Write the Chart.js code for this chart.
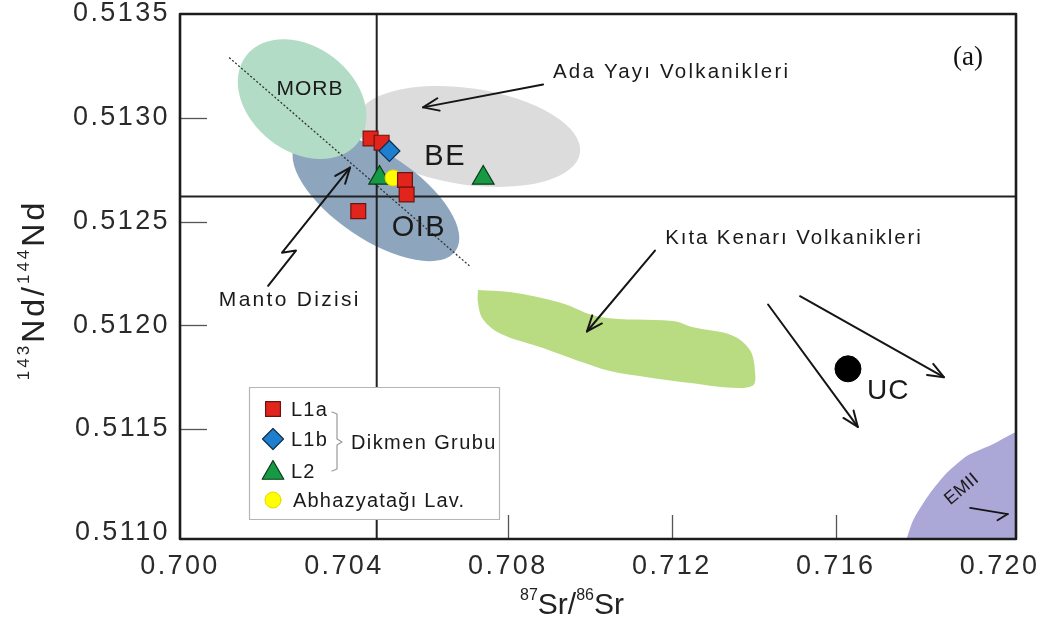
<!DOCTYPE html>
<html>
<head>
<meta charset="utf-8">
<script src="https://cdn.jsdelivr.net/npm/chart.js@4.4.1/dist/chart.umd.min.js"></script>
<style>
  html, body { margin: 0; padding: 0; background: #fff; }
  #wrap { width: 1040px; height: 625px; }
</style>
</head>
<body>
<div id="wrap"><canvas id="c" width="1040" height="625"></canvas></div>
<script>
// 87Sr/86Sr vs 143Nd/144Nd – Dikmen Grubu and Abhazyatağı lavas

const xTicks = [0.700, 0.704, 0.708, 0.712, 0.716, 0.720];
const yTicks = [0.5110, 0.5115, 0.5120, 0.5125, 0.5130, 0.5135];

// samples
const srL1a = [0.70465, 0.70492, 0.70549, 0.70553, 0.70435];
const ndL1a = [0.51290, 0.51288, 0.51270, 0.51263, 0.51255];
const srL1b = [0.70511];
const ndL1b = [0.51284];
const srL2  = [0.70487, 0.70740];
const ndL2  = [0.51271, 0.51271];
const srAbh = [0.70520];
const ndAbh = [0.51271];

// upper crust
const srUC = [0.71630];
const ndUC = [0.51179];

// bulk earth reference lines
const bulkEarthSr = 0.7048;
const churNd = 0.51262;

// mantle array
const mantleSr = [0.70120, 0.70710];
const mantleNd = [0.51329, 0.51228];

// continental margin volcanics field (outline)
const kitaSr = [0.70727, 0.70805, 0.70927, 0.71025, 0.71203, 0.71252, 0.71349, 0.71391, 0.71403, 0.71398,
                0.71335, 0.71252, 0.71140, 0.71049, 0.70969, 0.70886, 0.70781, 0.70739, 0.70727, 0.70727];
const kitaNd = [0.51217, 0.51216, 0.51211, 0.51204, 0.51202, 0.51199, 0.51195, 0.51188, 0.51178, 0.51171,
                0.51170, 0.51172, 0.51175, 0.51178, 0.51183, 0.51189, 0.51196, 0.51203, 0.51211, 0.51217];

// EMII field (outline)
const emiiSr = [0.71762, 0.71789, 0.71830, 0.71872, 0.71920, 0.71977, 0.72060, 0.72060, 0.71762];
const emiiNd = [0.51090, 0.51106, 0.51119, 0.51129, 0.51137, 0.51142, 0.51149, 0.51090, 0.51090];

// elliptical fields: centre, end of long semi-axis, end of short semi-axis (Sr, Nd pairs)
const fieldBE   = [0.70703, 0.51291, 0.70976, 0.51283, 0.70686, 0.51268];
const fieldOIB  = [0.70478, 0.51262, 0.70673, 0.51236, 0.70397, 0.51249];
const fieldMORB = [0.70298, 0.51309, 0.70434, 0.51288, 0.70221, 0.51289];

// arrows: start Sr, start Nd, end Sr, end Nd
const arrowAda  = [0.70886, 0.51316, 0.70593, 0.51305];
const arrowKita = [0.71159, 0.51236, 0.70993, 0.51197];
const arrowUC1  = [0.71435, 0.51210, 0.71654, 0.51151];
const arrowUC2  = [0.71513, 0.51214, 0.71864, 0.51175];
const arrowEM   = [0.71928, 0.51112, 0.72020, 0.51109];
// zig-zag pointer towards the mantle array
const mantoPtrSr = [0.70215, 0.70283, 0.70249, 0.70415];
const mantoPtrNd = [0.51219, 0.51236, 0.51235, 0.51276];

const zip = (xs, ys) => xs.map((x, i) => ({ x: x, y: ys[i] }));

const FONT = '"Liberation Sans", Arial, Helvetica, sans-serif';

const datasets = [
  {
    label: 'L1b', data: zip(srL1b, ndL1b), order: 0,
    pointStyle: 'rectRot', pointRadius: 10.5, pointHoverRadius: 10.5,
    backgroundColor: '#1f7fcf', borderColor: '#10304f', borderWidth: 1.2
  },
  {
    label: 'L1a', data: zip(srL1a, ndL1a), order: 1,
    pointStyle: 'rect', pointRadius: 10.5, pointHoverRadius: 10.5,
    backgroundColor: '#e1241c', borderColor: '#6e1410', borderWidth: 1.2
  },
  {
    label: 'Abhazyatağı Lav.', data: zip(srAbh, ndAbh), order: 2,
    pointStyle: 'circle', pointRadius: 8, pointHoverRadius: 8,
    backgroundColor: '#ffff00', borderColor: '#e6d800', borderWidth: 1
  },
  {
    label: 'L2', data: zip(srL2, ndL2), order: 3,
    pointStyle: 'triangle', pointRadius: 12.5, pointHoverRadius: 12.5,
    backgroundColor: '#169a44', borderColor: '#0b3a1a', borderWidth: 1.2
  },
  {
    label: 'UC', data: zip(srUC, ndUC), order: 4,
    pointStyle: 'circle', pointRadius: 13, pointHoverRadius: 13,
    backgroundColor: '#000000', borderColor: '#000000', borderWidth: 1
  },
  {
    label: 'bulk earth Sr', data: [{ x: bulkEarthSr, y: 0.5109 }, { x: bulkEarthSr, y: 0.5136 }], order: 5,
    showLine: true, pointRadius: 0, borderColor: '#222', borderWidth: 2
  },
  {
    label: 'CHUR Nd', data: [{ x: 0.6995, y: churNd }, { x: 0.7210, y: churNd }], order: 5,
    showLine: true, pointRadius: 0, borderColor: '#222', borderWidth: 2
  },
  {
    label: 'mantle array', data: zip(mantleSr, mantleNd), order: 5,
    showLine: true, pointRadius: 0, borderColor: '#333', borderWidth: 1.3, borderDash: [2, 2]
  },
  {
    label: 'Kıta Kenarı', data: zip(kitaSr, kitaNd), order: 6,
    showLine: true, pointRadius: 0, tension: 0.35, borderWidth: 0,
    borderColor: 'rgba(0,0,0,0)', backgroundColor: '#b9dc82', fill: 'shape'
  },
  {
    label: 'EMII', data: zip(emiiSr, emiiNd), order: 6,
    showLine: true, pointRadius: 0, tension: 0.2, borderWidth: 0,
    borderColor: 'rgba(0,0,0,0)', backgroundColor: '#aba7d6', fill: 'shape'
  }
];

// text placed in data space: [text, Sr, Nd, size, align, rotation(deg), letter spacing]
const fieldLabels = [
  ['MORB', 0.70317, 0.51314, 21, 'center', 0, 1],
  ['BE', 0.70647, 0.51281, 29, 'center', 0, 1.5],
  ['OIB', 0.70583, 0.51247, 29, 'center', 0, 1.5],
  ['Ada Yayı Volkanikleri', 0.70910, 0.51322, 20.5, 'left', 0, 2.2],
  ['Kıta Kenarı Volkanikleri', 0.71184, 0.51242, 20.5, 'left', 0, 1.9],
  ['Manto Dizisi', 0.70268, 0.51212, 21, 'center', 0, 2.3],
  ['UC', 0.71728, 0.51168, 28, 'center', 0, 1],
  ['EMII', 0.71908, 0.51121, 18, 'center', -40, 0.5]
];

function px(chart, sr, nd) {
  return [chart.scales.x.getPixelForValue(sr), chart.scales.y.getPixelForValue(nd)];
}

function drawField(chart, f, color) {
  const ctx = chart.ctx;
  const [cx, cy] = px(chart, f[0], f[1]);
  const [ax, ay] = px(chart, f[2], f[3]);
  const [bx, by] = px(chart, f[4], f[5]);
  ctx.beginPath();
  ctx.ellipse(cx, cy, Math.hypot(ax - cx, ay - cy), Math.hypot(bx - cx, by - cy),
              Math.atan2(ay - cy, ax - cx), 0, Math.PI * 2);
  ctx.fillStyle = color;
  ctx.fill();
}

function drawArrow(chart, pts, head) {
  const ctx = chart.ctx;
  const p = pts.map(q => px(chart, q[0], q[1]));
  ctx.beginPath();
  ctx.moveTo(p[0][0], p[0][1]);
  for (let i = 1; i < p.length; i++) ctx.lineTo(p[i][0], p[i][1]);
  ctx.stroke();
  const a = p[p.length - 2], b = p[p.length - 1];
  const ang = Math.atan2(b[1] - a[1], b[0] - a[0]);
  const L = head === 'half' ? 12 : 17, spread = head === 'half' ? 0.7 : 0.38;
  ctx.beginPath();
  ctx.moveTo(b[0] - L * Math.cos(ang - spread), b[1] - L * Math.sin(ang - spread));
  ctx.lineTo(b[0], b[1]);
  if (head === 'full') ctx.lineTo(b[0] - L * Math.cos(ang + spread), b[1] - L * Math.sin(ang + spread));
  ctx.stroke();
}

// wider tracking for the axis tick labels
const trackingPlugin = {
  id: 'tracking',
  beforeDraw(chart) { chart.ctx.letterSpacing = '2.4px'; },
  beforeDatasetsDraw(chart) { chart.ctx.letterSpacing = '0px'; }
};

const fieldsPlugin = {
  id: 'fields',
  beforeDatasetsDraw(chart) {
    const ctx = chart.ctx, ca = chart.chartArea;
    ctx.save();
    ctx.beginPath();
    ctx.rect(ca.left, ca.top, ca.right - ca.left, ca.bottom - ca.top);
    ctx.clip();
    drawField(chart, fieldBE, '#dcdcdc');
    drawField(chart, fieldOIB, '#8da6bd');
    drawField(chart, fieldMORB, '#b2dcc6');
    ctx.restore();
  }
};

const overlayPlugin = {
  id: 'overlay',
  afterDatasetsDraw(chart) {
    const ctx = chart.ctx, ca = chart.chartArea;
    const sx = chart.scales.x, sy = chart.scales.y;
    ctx.save();
    ctx.letterSpacing = '0px';

    // inner tick marks
    ctx.strokeStyle = '#555';
    ctx.lineWidth = 1.3;
    xTicks.slice(2, 5).forEach(v => {
      const x = Math.round(sx.getPixelForValue(v)) + 0.5;
      ctx.beginPath(); ctx.moveTo(x, ca.bottom); ctx.lineTo(x, ca.bottom - 24); ctx.stroke();
    });
    yTicks.slice(1, 5).forEach(v => {
      const y = Math.round(sy.getPixelForValue(v)) + 0.5;
      ctx.beginPath(); ctx.moveTo(ca.left, y); ctx.lineTo(ca.left + 27, y); ctx.stroke();
    });

    // arrows
    ctx.strokeStyle = '#151515';
    ctx.lineWidth = 2;
    ctx.lineCap = 'round';
    ctx.lineJoin = 'round';
    [arrowAda, arrowKita, arrowUC1, arrowUC2].forEach(a =>
      drawArrow(chart, [[a[0], a[1]], [a[2], a[3]]], 'full'));
    ctx.lineWidth = 1.8;
    drawArrow(chart, [[arrowEM[0], arrowEM[1]], [arrowEM[2], arrowEM[3]]], 'half');
    ctx.lineWidth = 2;
    drawArrow(chart, mantoPtrSr.map((s, i) => [s, mantoPtrNd[i]]), 'full');

    // field labels
    ctx.fillStyle = '#1a1a1a';
    ctx.textBaseline = 'middle';
    fieldLabels.forEach(l => {
      const [x, y] = px(chart, l[1], l[2]);
      ctx.save();
      ctx.translate(x, y);
      ctx.rotate(l[5] * Math.PI / 180);
      ctx.font = l[3] + 'px ' + FONT;
      ctx.letterSpacing = l[6] + 'px';
      ctx.textAlign = l[4];
      ctx.fillText(l[0], 0, 0);
      ctx.restore();
    });

    // panel letter
    ctx.font = '27px "Liberation Serif", "Times New Roman", serif';
    ctx.textAlign = 'center';
    ctx.fillStyle = '#111';
    ctx.fillText('(a)', ca.right - 48, ca.top + 44);

    // plot frame
    ctx.strokeStyle = '#1c1c1c';
    ctx.lineWidth = 2.6;
    ctx.strokeRect(ca.left, ca.top, ca.right - ca.left, ca.bottom - ca.top);

    // legend
    const lx = ca.left + 69, ly = ca.top + 373;
    ctx.fillStyle = '#fff';
    ctx.fillRect(lx, ly, 250, 132);
    ctx.strokeStyle = '#b5b5b5';
    ctx.lineWidth = 1.2;
    ctx.strokeRect(lx + 0.5, ly + 0.5, 250, 132);
    const items = [
      [datasets[1], 22, 'L1a', 42],
      [datasets[0], 52, 'L1b', 42],
      [datasets[3], 84, 'L2', 42],
      [datasets[2], 113, 'Abhazyatağı Lav.', 44]
    ];
    ctx.letterSpacing = '1.2px';
    items.forEach(it => {
      const d = it[0];
      ctx.fillStyle = d.backgroundColor;
      ctx.strokeStyle = d.borderColor;
      ctx.lineWidth = d.borderWidth;
      const yOff = d.pointStyle === 'triangle' ? 2 : 0;
      Chart.helpers.drawPoint(ctx, { pointStyle: d.pointStyle, radius: d.pointRadius, rotation: 0, borderWidth: d.borderWidth },
                              lx + 24, ly + it[1] + yOff);
      ctx.fillStyle = '#1a1a1a';
      ctx.font = '20px ' + FONT;
      ctx.textAlign = 'left';
      ctx.textBaseline = 'middle';
      ctx.fillText(it[2], lx + it[3], ly + it[1] + 1);
    });
    // bracket grouping the Dikmen units
    ctx.strokeStyle = '#9a9a9a';
    ctx.lineWidth = 1.2;
    ctx.beginPath();
    ctx.moveTo(lx + 83, ly + 25);
    ctx.lineTo(lx + 88, ly + 27);
    ctx.lineTo(lx + 88, ly + 52);
    ctx.lineTo(lx + 93, ly + 55);
    ctx.lineTo(lx + 88, ly + 58);
    ctx.lineTo(lx + 88, ly + 82);
    ctx.lineTo(lx + 83, ly + 84);
    ctx.stroke();
    ctx.fillStyle = '#1a1a1a';
    ctx.letterSpacing = '1.4px';
    ctx.fillText('Dikmen Grubu', lx + 102, ly + 56);

    // axis titles with superscript mass numbers
    function sup(parts, x, y, rot, track) {
      ctx.save();
      ctx.translate(x, y);
      ctx.rotate(rot);
      ctx.letterSpacing = track + 'px';
      let total = 0;
      parts.forEach(p => { ctx.font = p[1] + 'px ' + FONT; total += ctx.measureText(p[0]).width; });
      let cx = -total / 2;
      ctx.textAlign = 'left';
      ctx.textBaseline = 'alphabetic';
      ctx.fillStyle = '#222';
      parts.forEach(p => {
        ctx.font = p[1] + 'px ' + FONT;
        ctx.fillText(p[0], cx, p[2]);
        cx += ctx.measureText(p[0]).width;
      });
      ctx.restore();
    }
    sup([['87', 16, -14], ['Sr/', 30, 0], ['86', 16, -14], ['Sr', 30, 0]], 572, 614, 0, 0);
    sup([['143', 17, -15], ['Nd/', 32, 0], ['144', 17, -15], ['Nd', 32, 0]], 44, 290, -Math.PI / 2, 3);

    ctx.restore();
  }
};

new Chart(document.getElementById('c'), {
  type: 'scatter',
  data: { datasets: datasets },
  options: {
    responsive: false,
    animation: false,
    devicePixelRatio: 1,
    events: [],
    layout: { padding: { top: 14, right: 24, left: 0, bottom: 0 } },
    plugins: { legend: { display: false }, tooltip: { enabled: false } },
    scales: {
      x: {
        type: 'linear', min: 0.700, max: 0.7204,
        grid: { display: false, drawTicks: false },
        border: { display: false },
        afterBuildTicks: s => { s.ticks = xTicks.map(v => ({ value: v })); },
        afterFit: s => { s.height = 86; s.paddingLeft = 0; s.paddingRight = 0; },
        ticks: {
          padding: 11, color: '#2a2a2a',
          font: { family: FONT, size: 27 },
          callback: v => v.toFixed(3)
        }
      },
      y: {
        type: 'linear', min: 0.51097, max: 0.5135,
        grid: { display: false, drawTicks: false },
        border: { display: false },
        afterBuildTicks: s => { s.ticks = yTicks.map(v => ({ value: v })); },
        afterFit: s => { s.width = 180; s.paddingTop = 0; s.paddingBottom = 0; },
        ticks: {
          padding: 10, color: '#2a2a2a',
          font: { family: FONT, size: 27 },
          callback: v => v.toFixed(4)
        }
      }
    }
  },
  plugins: [trackingPlugin, fieldsPlugin, overlayPlugin]
});
</script>
</body>
</html>
